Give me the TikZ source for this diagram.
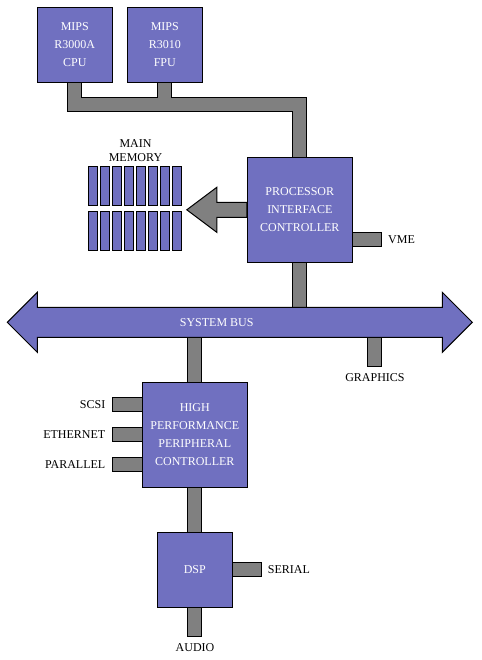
\documentclass[tikz,border=0pt]{standalone}
\usepackage{fontspec}
\setmainfont{Liberation Serif}
\usetikzlibrary{backgrounds}
\definecolor{boxblue}{RGB}{112,112,192}
\definecolor{busgray}{RGB}{128,128,128}

\begin{document}
\begin{tikzpicture}[x=1pt,y=-1pt]
\tikzstyle{box}=[rectangle,draw=black,line width=1pt,fill=boxblue,text=white,align=center,inner sep=0pt,font=\fontsize{12}{18}\selectfont]
\tikzstyle{membar}=[rectangle,draw=black,line width=1pt,fill=boxblue,minimum width=9pt,minimum height=39pt,inner sep=0pt]
\tikzstyle{bar}=[draw=busgray,line width=13pt,line cap=rect,preaction={draw=black,line width=15pt}]
\tikzstyle{stub}=[draw=black,line width=1pt,double=busgray,double distance=13pt,line cap=rect,shorten >=7.5pt]
\tikzstyle{txt}=[inner sep=0pt,align=center,font=\fontsize{12}{14}\selectfont]
\useasboundingbox (0,0) rectangle (481,660);

% chips
\node[box,minimum size=75pt] (cpu) at (74.8,44.8) {MIPS\\R3000A\\CPU};
\node[box,minimum size=75pt] (fpu) at (164.8,44.8) {MIPS\\R3010\\FPU};
\node[box,minimum size=105pt] (pic) at (299.8,209.8) {PROCESSOR\\INTERFACE\\CONTROLLER};
\node[box,minimum size=105pt] (hppc) at (194.8,434.8) {HIGH\\PERFORMANCE\\PERIPHERAL\\CONTROLLER};
\node[box,minimum size=75pt] (dsp) at (194.8,569.8) {DSP};

% main memory
\foreach \i in {0,...,7} {
  \node[membar] (mema\i) at (92.8+12*\i,185.8) {};
  \node[membar] (memb\i) at (92.8+12*\i,230.8) {};
}
\node[txt] (mainmem) at (135.5,151) {MAIN\\MEMORY};

% system bus
\coordinate (bus) at (239.8,322.3);
\draw[line width=1pt,fill=boxblue] (7.3,322.3) -- (37.3,292.3) -- (37.3,307.3) -- (442.3,307.3) -- (442.3,292.3) -- (472.3,322.3) -- (442.3,352.3) -- (442.3,337.3) -- (37.3,337.3) -- (37.3,352.3) -- cycle;
\node[txt,text=white] (busname) at (216.7,322.3) {SYSTEM BUS};

% outside connections
\coordinate (cpujoin) at (74.8,104.8);
\coordinate (vme) at (382.3,239.8);
\coordinate (gfx) at (374.8,367.3);
\coordinate (scsi) at (112.3,404.8);
\coordinate (eth) at (112.3,434.8);
\coordinate (par) at (112.3,464.8);
\coordinate (serial) at (262.3,569.8);
\coordinate (audio) at (194.8,637.3);
\node[txt,anchor=west] (vmename) at (388,239.8) {VME};
\node[txt] (gfxname) at (375,377.3) {GRAPHICS};
\node[txt,anchor=east] (scsiname) at (105.5,404.8) {SCSI};
\node[txt,anchor=east] (ethname) at (105.5,434.8) {ETHERNET};
\node[txt,anchor=east] (parname) at (105.5,464.8) {PARALLEL};
\node[txt,anchor=west] (serialname) at (267.7,569.8) {SERIAL};
\node[txt] (audioname) at (195,647.3) {AUDIO};

\begin{scope}[on background layer]
\draw[bar] (cpu.south) -- (cpujoin) -| (pic.north) (fpu.south) -- (fpu.south |- cpujoin);
\draw[bar] (pic.south) -- (pic.south |- bus);
\draw[stub] (pic.east |- vme) -- (vme);
\draw[line width=1pt,fill=busgray] (pic.west) ++(0,-7.5) -- ++(-30,0) -- ++(0,-15) -- ++(-30,22.5) -- ++(30,22.5) -- ++(0,-15) -- ++(30,0) -- cycle;
\draw[bar] (hppc.north |- bus) -- (hppc.north);
\draw[stub] (gfx |- bus) -- (gfx);
\foreach \p in {scsi,eth,par} \draw[stub] (hppc.west |- \p) -- (\p);
\draw[bar] (hppc.south) -- (dsp.north);
\draw[stub] (dsp.east) -- (serial);
\draw[stub] (dsp.south) -- (audio);
\end{scope}
\end{tikzpicture}
\end{document}
